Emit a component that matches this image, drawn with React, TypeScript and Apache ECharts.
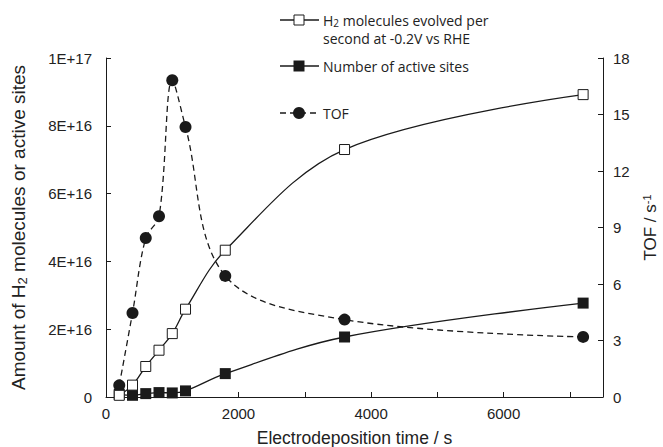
import React, { useEffect, useRef } from "react";
import * as echarts from "echarts";

const times = [200, 400, 600, 800, 1000, 1200, 1800, 3600, 7200];
const h2Evolved = [0.05e16, 0.35e16, 0.9e16, 1.38e16, 1.87e16, 2.59e16, 4.33e16, 7.3e16, 8.92e16];
const activeSites = [0.08e16, 0.05e16, 0.1e16, 0.13e16, 0.12e16, 0.18e16, 0.69e16, 1.77e16, 2.77e16];
const tof = [0.62, 4.46, 8.44, 9.6, 16.82, 14.34, 6.43, 4.11, 3.19];

const xTitle = "Electrodeposition time / s";
const legendNames = ["H2 molecules evolved per second at -0.2V vs RHE", "Number of active sites", "TOF"];

const FONT = "Liberation Sans";
const INK = "#1a1a1a";
const TXT = "#222";

function leftLabel(v: number): string {
  if (v === 0) return "0";
  const m = Math.round(v / 1e16);
  if (m === 10) return "1E+17";
  return m + "E+16";
}

export default function App() {
  const ref = useRef<HTMLDivElement>(null);
  useEffect(() => {
    if (!ref.current) return;
    const chart = echarts.init(ref.current, undefined, { renderer: "svg" });
    const pairs = (ys: number[]) => times.map((t, i) => [t, ys[i]]);
    const legendFont = "Open Sans";
    const lfs = 14;
    const lx0 = 280, lx1 = 319, lmx = 299, ltx = 323;
    chart.setOption({
      animation: false,
      backgroundColor: "#fff",
      grid: { left: 106, right: 60, top: 58, bottom: 50, containLabel: false, outerBoundsMode: "none" },
      xAxis: {
        type: "value",
        min: 0,
        max: 7500,
        interval: 1000,
        name: xTitle,
        nameLocation: "middle",
        nameGap: 32,
        nameTextStyle: { fontFamily: FONT, fontSize: 17.5, color: TXT },
        axisLine: { show: true, lineStyle: { color: INK, width: 1 } },
        axisTick: { show: true, inside: true, length: 5, lineStyle: { color: INK } },
        axisLabel: {
          fontFamily: FONT,
          fontSize: 15,
          color: TXT,
          margin: 9,
          formatter: (v: number) => (v % 2000 === 0 ? String(v) : ""),
        },
        splitLine: { show: false },
      },
      yAxis: [
        {
          type: "value",
          min: 0,
          max: 1e17,
          interval: 2e16,
          position: "left",
          name: "Amount of H{sub|2} molecules or active sites",
          nameLocation: "middle",
          nameRotate: 90,
          nameGap: 77,
          nameTextStyle: {
            fontFamily: FONT,
            fontSize: 19,
            color: TXT,
            rich: {
              sub: { fontFamily: FONT, fontSize: 13, color: TXT, verticalAlign: "bottom", padding: [9, 0, 0, 0] },
            },
          },
          axisLine: { show: true, lineStyle: { color: INK, width: 1 } },
          axisTick: { show: true, inside: true, length: 5, lineStyle: { color: INK } },
          axisLabel: { fontFamily: FONT, fontSize: 15, color: TXT, margin: 14, formatter: leftLabel },
          splitLine: { show: false },
        },
        {
          type: "value",
          min: 0,
          max: 18,
          interval: 3,
          position: "right",
          name: "TOF / s{sup|-1}",
          nameLocation: "middle",
          nameRotate: 90,
          nameGap: 38,
          nameTextStyle: {
            fontFamily: FONT,
            fontSize: 17,
            color: TXT,
            rich: {
              sup: { fontFamily: FONT, fontSize: 11, color: TXT, verticalAlign: "top", padding: [0, 0, 8, 0] },
            },
          },
          axisLine: { show: true, lineStyle: { color: INK, width: 1 } },
          axisTick: { show: true, inside: true, length: 5, lineStyle: { color: INK } },
          axisLabel: { fontFamily: FONT, fontSize: 15, color: TXT, margin: 10 },
          splitLine: { show: false },
        },
      ],
      series: [
        {
          name: legendNames[1],
          type: "line",
          yAxisIndex: 0,
          data: pairs(activeSites),
          smooth: 0.35,
          symbol: "rect",
          symbolSize: 11,
          lineStyle: { color: INK, width: 1.3 },
          itemStyle: { color: INK, borderColor: INK, borderWidth: 0 },
          z: 3,
        },
        {
          name: legendNames[0],
          type: "line",
          yAxisIndex: 0,
          data: pairs(h2Evolved),
          smooth: 0.35,
          symbol: "rect",
          symbolSize: 10,
          lineStyle: { color: INK, width: 1.3 },
          itemStyle: { color: "#fff", borderColor: INK, borderWidth: 1 },
          z: 4,
        },
        {
          name: legendNames[2],
          type: "line",
          yAxisIndex: 1,
          data: pairs(tof),
          smooth: 0.35,
          symbol: "circle",
          symbolSize: 12,
          lineStyle: { color: INK, width: 1.3, type: [6, 4] },
          itemStyle: { color: INK, borderWidth: 0 },
          z: 2,
        },
      ],
      graphic: [
        { type: "line", shape: { x1: lx0, y1: 20, x2: lx1, y2: 20 }, style: { stroke: INK, lineWidth: 1.3 } },
        { type: "rect", shape: { x: lmx - 5, y: 15, width: 10, height: 10 }, style: { fill: "#fff", stroke: INK, lineWidth: 1 } },
        {
          type: "text",
          x: ltx,
          y: 20,
          style: {
            text: "H{sub|2} molecules evolved per",
            fontFamily: legendFont,
            fontSize: lfs,
            fill: TXT,
            verticalAlign: "middle",
            rich: { sub: { fontFamily: legendFont, fontSize: 10, fill: TXT, verticalAlign: "bottom", padding: [6, 0, 0, 0] } },
          },
        },
        {
          type: "text",
          x: ltx,
          y: 38,
          style: { text: "second at -0.2V vs RHE", fontFamily: legendFont, fontSize: lfs, fill: TXT, verticalAlign: "middle" },
        },
        { type: "line", shape: { x1: lx0, y1: 66, x2: lx1, y2: 66 }, style: { stroke: INK, lineWidth: 1.3 } },
        { type: "rect", shape: { x: lmx - 5.5, y: 60.5, width: 11, height: 11 }, style: { fill: INK } },
        {
          type: "text",
          x: ltx,
          y: 66,
          style: { text: legendNames[1], fontFamily: legendFont, fontSize: lfs, fill: TXT, verticalAlign: "middle" },
        },
        { type: "line", shape: { x1: lx0, y1: 113, x2: lx1, y2: 113 }, style: { stroke: INK, lineWidth: 1.3, lineDash: [6, 4] } },
        { type: "circle", shape: { cx: lmx, cy: 113, r: 6 }, style: { fill: INK } },
        {
          type: "text",
          x: ltx,
          y: 113,
          style: { text: legendNames[2], fontFamily: legendFont, fontSize: lfs, fill: TXT, verticalAlign: "middle" },
        },
      ],
    });
    return () => chart.dispose();
  }, []);
  return <div ref={ref} style={{ width: 663, height: 447, position: "absolute", left: 0, top: 0 }} />;
}
